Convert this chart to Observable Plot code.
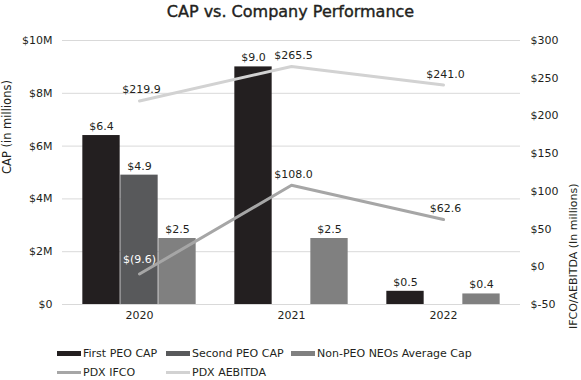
<!DOCTYPE html>
<html>
<head>
<meta charset="utf-8">
<script src="https://cdn.jsdelivr.net/npm/d3@7"></script>
<script src="https://cdn.jsdelivr.net/npm/@observablehq/plot@0.6"></script>
<style>
  html, body { margin: 0; padding: 0; background: #fff; }
  body { width: 581px; font-family: "DejaVu Sans", sans-serif; color: #231f20; }
  #title { height: 24px; line-height: 24px; text-align: center; font-size: 16px; color: #231f20; -webkit-text-stroke: 0.4px #231f20; }
  #chart svg { display: block; overflow: visible; }
  #legend { padding-top: 10px; padding-left: 57px; display: grid; grid-template-columns: 109px 125px auto; grid-auto-rows: 19px; font-size: 11px; }
  .item { display: flex; align-items: center; white-space: nowrap; }
  .sw { width: 24px; margin-right: 2px; display: inline-block; }
</style>
</head>
<body>
<div id="title">CAP vs. Company Performance</div>
<div id="chart"></div>
<div id="legend"></div>
<script>
const years = ["2020", "2021", "2022"];
const firstPeoCap = [6.4, 9.0, 0.5];
const secondPeoCap = [4.9, null, null];
const nonPeoNeoAvgCap = [2.5, 2.5, 0.4];
const pdxIfco = [-9.6, 108.0, 62.6];
const pdxAebitda = [219.9, 265.5, 241.0];
const leftTicks = [0, 2, 4, 6, 8, 10];
const rightTicks = [-50, 0, 50, 100, 150, 200, 250, 300];

const barSeries = [
  {name: "First PEO CAP", values: firstPeoCap, color: "#231f20"},
  {name: "Second PEO CAP", values: secondPeoCap, color: "#58595b"},
  {name: "Non-PEO NEOs Average Cap", values: nonPeoNeoAvgCap, color: "#808080"}
];
const lineSeries = [
  {name: "PDX IFCO", values: pdxIfco, color: "#a6a6a6"},
  {name: "PDX AEBITDA", values: pdxAebitda, color: "#d2d2d2"}
];

const W = 581, H = 310, mL = 62, mR = 61, mT = 16, mB = 30;
const bandW = (W - mL - mR) / years.length;
const barW = 38;
const inset = (bandW - barW) / 2;

// right axis values mapped onto the left (CAP) scale
const r = d3.scaleLinear([-50, 300], [0, 10]);

const fmtLine = v => v < 0 ? `$(${Math.abs(v).toFixed(1)})` : `$${v.toFixed(1)}`;
const dark = "#231f20";

const marks = [
  Plot.gridY(leftTicks, {stroke: "#d9d9d9", strokeOpacity: 1}),
  Plot.axisY(leftTicks, {anchor: "left", tickSize: 0, tickPadding: 10, fontSize: 11,
    tickFormat: d => d === 0 ? "$0" : `$${d}M`, label: null}),
  Plot.axisY(rightTicks.map(r), {anchor: "right", tickSize: 0, tickPadding: 10, fontSize: 11,
    tickFormat: d => `$${Math.round(r.invert(d))}`, label: null}),
  Plot.axisX({tickSize: 0, tickPadding: 7, fontSize: 11, label: null}),
  Plot.text(["CAP (in millions)"], {frameAnchor: "left", rotate: -90, dx: -55, dy: 1.5, fontSize: 11.5, fill: dark}),
  Plot.text(["IFCO/AEBITDA (In millions)"], {frameAnchor: "right", rotate: -90, dx: 53, dy: 11, fontSize: 11, fill: dark})
];

barSeries.forEach((s, i) => {
  const data = years.map((y, j) => ({year: y, value: s.values[j]})).filter(d => d.value != null);
  marks.push(Plot.barY(data, {x: "year", y: "value", fill: s.color, insetLeft: inset, insetRight: inset, dx: (i - 1) * barW}));
  marks.push(Plot.text(data, {x: "year", y: "value", text: d => `$${d.value.toFixed(1)}`, dx: (i - 1) * barW, dy: -9, fontSize: 11, fill: dark}));
});

lineSeries.forEach(s => {
  const data = years.map((y, j) => ({year: y, value: s.values[j]}));
  marks.push(Plot.line(data, {x: "year", y: d => r(d.value), stroke: s.color, strokeWidth: 3}));
  marks.push(Plot.text(data.filter(d => d.value >= 0), {x: "year", y: d => r(d.value), text: d => fmtLine(d.value), dx: 2, dy: -11, fontSize: 11, fill: dark}));
  marks.push(Plot.text(data.filter(d => d.value < 0), {x: "year", y: d => r(d.value), text: d => fmtLine(d.value), dy: -15, fontSize: 11, fill: "white"}));
});

const chart = Plot.plot({
  width: W, height: H,
  marginLeft: mL, marginRight: mR, marginTop: mT, marginBottom: mB,
  style: {fontFamily: "DejaVu Sans, sans-serif", fontSize: "11px", color: dark, background: "white", overflow: "visible"},
  x: {type: "band", domain: years, padding: 0},
  y: {domain: [0, 10]},
  marks
});
document.getElementById("chart").append(chart);

const legend = document.getElementById("legend");
const items = [
  ...barSeries.map(s => ({name: s.name, color: s.color, h: 5})),
  ...lineSeries.map(s => ({name: s.name, color: s.color, h: 3}))
];
items.forEach((it, k) => {
  const div = document.createElement("div");
  div.className = "item";
  if (k === 3) div.style.gridColumn = "1";
  const sw = document.createElement("span");
  sw.className = "sw";
  sw.style.height = it.h + "px";
  sw.style.background = it.color;
  div.append(sw, document.createTextNode(it.name));
  legend.append(div);
});
</script>
</body>
</html>
